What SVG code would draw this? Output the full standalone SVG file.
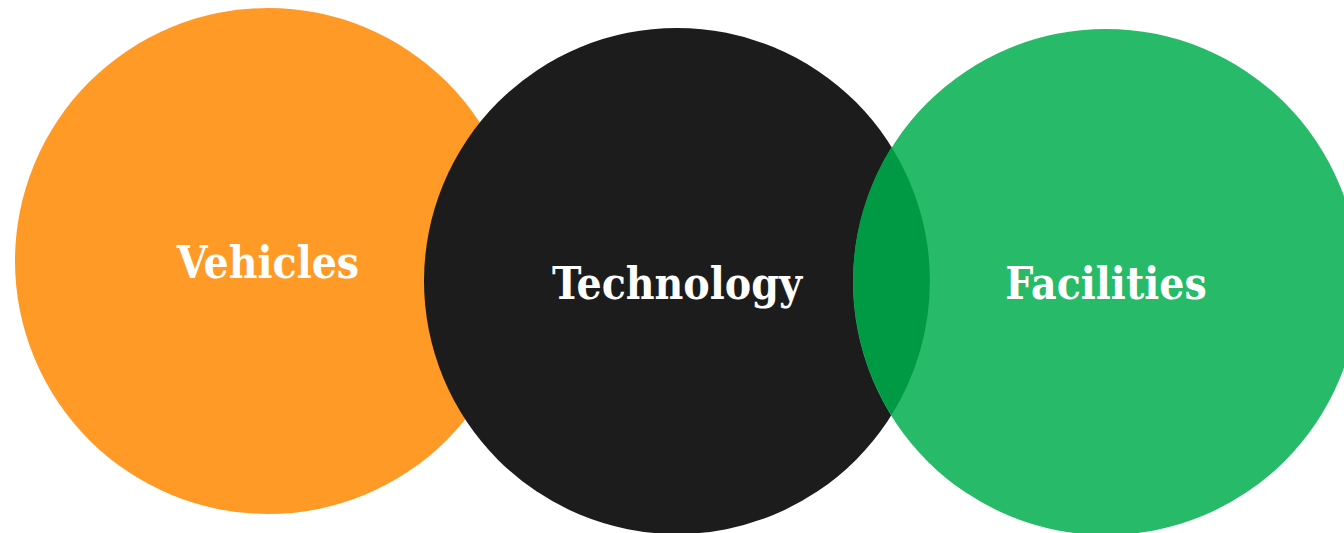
<svg xmlns="http://www.w3.org/2000/svg" width="1344" height="533" viewBox="0 0 1344 533">
<style>
.lbl{font-family:"DejaVu Serif","Liberation Serif",serif;font-weight:bold;font-stretch:condensed;font-size:44px;fill:#ffffff;text-anchor:middle}
</style>
<rect width="1344" height="533" fill="#ffffff"/>
<g id="vehicles">
<circle cx="268" cy="261" r="253" fill="#FF9A27"/>
<text class="lbl" x="268" y="278">Vehicles</text>
</g>
<g id="technology">
<circle cx="677" cy="281" r="253" fill="#1C1C1C"/>
</g>
<g id="facilities">
<circle cx="1106" cy="282" r="253" fill="#27BA68"/>
<path d="M891.5,147 A253,253 0 0 1 891.5,415 A253,253 0 0 1 891.5,147 Z" fill="#009A44"/>
<text class="lbl" x="1106" y="299">Facilities</text>
</g>
<g id="technology-label">
<text class="lbl" x="677" y="299">Technology</text>
</g>
<g id="connectors"/>
</svg>
